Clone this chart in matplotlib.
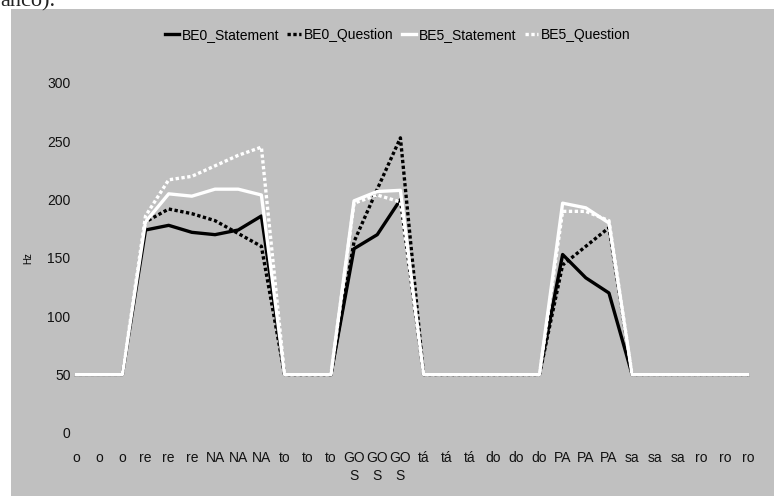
import matplotlib
matplotlib.use("Agg")
import matplotlib.pyplot as plt
from matplotlib.patches import Rectangle

plt.rcParams["font.family"] = ["Liberation Sans Narrow", "Liberation Sans", "DejaVu Sans"]

# syllables along the utterance, three samples each
syllables = ["o", "re", "NA", "to", "GO\nS", "tá", "do", "PA", "sa", "ro"]
labels = [s for s in syllables for _ in range(3)]

# F0 contours (Hz)
be0_statement = [50, 50, 50, 174, 178, 172, 170, 174, 186, 50, 50, 50,
                 158, 170, 200, 50, 50, 50, 50, 50, 50,
                 153, 133, 120, 50, 50, 50, 50, 50, 50]
be0_question = [50, 50, 50, 181, 192, 188, 182, 171, 160, 50, 50, 50,
                164, 209, 253, 50, 50, 50, 50, 50, 50,
                144, 160, 176, 50, 50, 50, 50, 50, 50]
be5_statement = [50, 50, 50, 181, 205, 203, 209, 209, 204, 50, 50, 50,
                 199, 207, 208, 50, 50, 50, 50, 50, 50,
                 197, 193, 180, 50, 50, 50, 50, 50, 50]
be5_question = [50, 50, 50, 186, 217, 220, 229, 238, 245, 50, 50, 50,
                197, 204, 198, 50, 50, 50, 50, 50, 50,
                190, 190, 182, 50, 50, 50, 50, 50, 50]

W, H = 774, 496
fig = plt.figure(figsize=(W / 100, H / 100), dpi=100)
fig.patch.set_facecolor("white")

# gray chart area below the page text
fig.patches.append(Rectangle((11 / W, 0), 1 - 11 / W, 1 - 9 / H,
                             transform=fig.transFigure, facecolor="#c0c0c0",
                             edgecolor="none", zorder=-10))
fig.text(0.0, 1 - 6 / H, "anco).", family="Liberation Serif", fontsize=16,
         va="baseline", ha="left", color="#222222")

ax = fig.add_axes([76 / W, (H - 433) / H, (748 - 76) / W, 350 / H])
ax.set_zorder(1)
ax.set_facecolor("none")
for s in ax.spines.values():
    s.set_visible(False)

x = range(len(labels))
dots = (0, (1, 0.75))
lw = 2.4
ax.plot(x, be0_statement, color="black", lw=lw, label="BE0_Statement", clip_on=False)
ax.plot(x, be0_question, color="black", lw=lw, ls=dots, dash_capstyle="butt",
        label="BE0_Question", clip_on=False)
ax.plot(x, be5_statement, color="white", lw=lw, label="BE5_Statement", clip_on=False)
ax.plot(x, be5_question, color="white", lw=lw, ls=dots, dash_capstyle="butt",
        label="BE5_Question", clip_on=False)

ax.set_xlim(0, len(labels) - 1)
ax.set_ylim(0, 300)
ax.set_yticks(range(0, 301, 50))
ax.set_xticks(list(x))
ax.set_xticklabels(labels, linespacing=1.35)
ax.tick_params(axis="both", length=0, labelsize=10, colors="#111111")
ax.tick_params(axis="y", pad=4)
ax.tick_params(axis="x", pad=13)
ax.set_ylabel("Hz", fontsize=7, labelpad=10)

fig.legend(loc="center", bbox_to_anchor=(0.514, 1 - 35 / H), ncol=4,
           frameon=False, fontsize=10, handlelength=1.0, handletextpad=0.2,
           columnspacing=0.6)

fig.savefig("out.png", dpi=100)
